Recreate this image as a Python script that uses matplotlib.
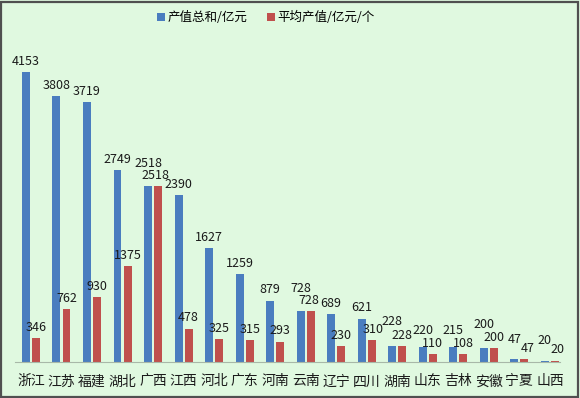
import matplotlib
matplotlib.use("Agg")
import matplotlib.pyplot as plt
import numpy as np
from matplotlib.patches import Rectangle

plt.rcParams['font.family'] = ['Noto Sans CJK SC', 'DejaVu Sans']

provinces = ["浙江", "江苏", "福建", "湖北", "广西", "江西", "河北", "广东", "河南",
             "云南", "辽宁", "四川", "湖南", "山东", "吉林", "安徽", "宁夏", "山西"]
total = [4153, 3808, 3719, 2749, 2518, 2390, 1627, 1259, 879,
         728, 689, 621, 228, 220, 215, 200, 47, 20]
average = [346, 762, 930, 1375, 2518, 478, 325, 315, 293,
           728, 230, 310, 228, 110, 108, 200, 47, 20]

# extra lift (points) for blue labels that would sit on top of the red ones
blue_lift = [0, 0, 0, 0, 9, 0, 0, 0, 0, 9, 0, 0, 10, 4, 4, 9, 6, 7]
red_shift = [0, 0, 0, 0, -2, 0, 0, 0, 0, -1, 0, 1, 0, 0, 0, 0, 2, 2]

bg = "#e0f9e0"
blue = "#4a7dbf"
red = "#c0504d"

fig = plt.figure(figsize=(5.8, 3.98), dpi=100, facecolor=bg)
ax = fig.add_axes([0.026, 0.0905, 0.94, 0.789])
ax.set_facecolor(bg)

x = np.arange(len(provinces))
w = 0.26
off = 0.165
ax.bar(x - off, total, w, color=blue, label="产值总和/亿元")
ax.bar(x + off, average, w, color=red, label="平均产值/亿元/个")

for i in range(len(x)):
    ax.annotate(str(total[i]), (x[i] - off, total[i]), xytext=(0, 3 + blue_lift[i]),
                textcoords="offset points", ha="center", va="bottom",
                fontsize=9, color="#1a1a1a")
    ax.annotate(str(average[i]), (x[i] + off, average[i]), xytext=(red_shift[i], 3),
                textcoords="offset points", ha="center", va="bottom",
                fontsize=9, color="#1a1a1a")

ax.set_xlim(-0.52, len(x) - 0.66)
ax.set_ylim(0, 4500)
ax.set_xticks(x)
ax.set_xticklabels(provinces, fontsize=10, color="#1a1a1a")
ax.tick_params(axis="x", length=0, pad=9)
ax.set_yticks([])
for s in ["top", "right", "left"]:
    ax.spines[s].set_visible(False)
ax.spines["bottom"].set_color("#a8b8a8")

ax.legend(loc="center", bbox_to_anchor=(0.46, 1.096), ncol=2, frameon=False,
          fontsize=9, handlelength=0.6, handleheight=0.6, handletextpad=0.2,
          columnspacing=1.6)

fig.patches.append(Rectangle((0.002, 0.003), 0.994, 0.993, transform=fig.transFigure,
                             fill=False, edgecolor="#505050", linewidth=1.6))

fig.savefig("out.png", dpi=100, facecolor=bg)
